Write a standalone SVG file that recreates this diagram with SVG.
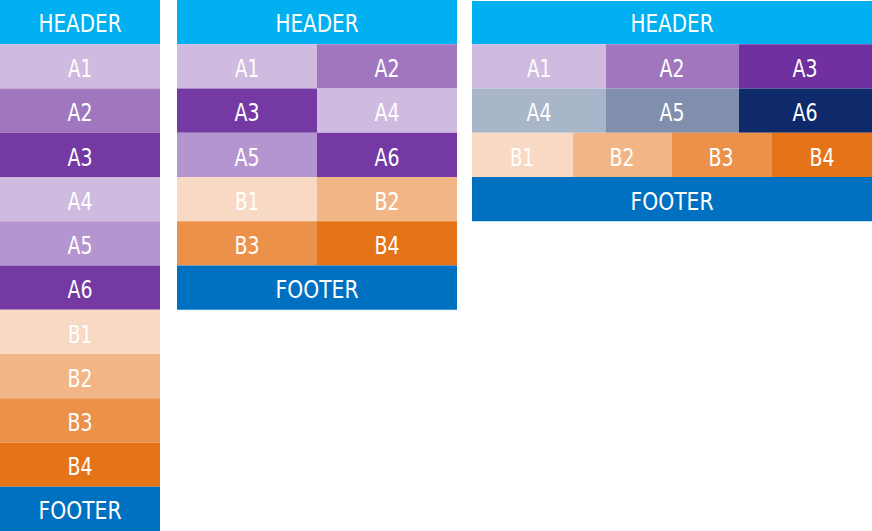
<svg xmlns="http://www.w3.org/2000/svg" width="872" height="531" viewBox="0 0 872 531">
<style>
text{font-family:"DejaVu Sans Condensed","DejaVu Sans",sans-serif;font-size:25px;fill:#ffffff;text-anchor:middle;lengthAdjust:spacingAndGlyphs}
.hd{fill:#00B0F0}.ft{fill:#0070C0}
.a1{fill:#D0BBE0}.a2{fill:#A077BE}.a3{fill:#7539A3}.a5{fill:#B595CF}
.a3b{fill:#7030A0}.g4{fill:#A9B5C9}.g5{fill:#7F8FAD}.g6{fill:#0E2A6A}
.b1{fill:#F8D9C3}.b2{fill:#F2B686}.b3{fill:#EB914A}.b4{fill:#E57317}
</style>
<rect width="872" height="531" fill="#ffffff"/>
<g id="col1">
<g id="c1-header"><rect class="hd" x="0" y="0" width="160" height="44.25"/><text x="80" y="32" textLength="83" lengthAdjust="spacingAndGlyphs">HEADER</text></g>
<g id="c1-a1"><rect class="a1" x="0" y="44.25" width="160" height="44.25"/><text x="80" y="77" textLength="24" lengthAdjust="spacingAndGlyphs">A1</text></g>
<g id="c1-a2"><rect class="a2" x="0" y="88.5" width="160" height="44.25"/><text x="80" y="121" textLength="25" lengthAdjust="spacingAndGlyphs">A2</text></g>
<g id="c1-a3"><rect class="a3" x="0" y="132.75" width="160" height="44.25"/><text x="80" y="166" textLength="25" lengthAdjust="spacingAndGlyphs">A3</text></g>
<g id="c1-a4"><rect class="a1" x="0" y="177" width="160" height="44.25"/><text x="80" y="210" textLength="25" lengthAdjust="spacingAndGlyphs">A4</text></g>
<g id="c1-a5"><rect class="a5" x="0" y="221.25" width="160" height="44.25"/><text x="80" y="254" textLength="25" lengthAdjust="spacingAndGlyphs">A5</text></g>
<g id="c1-a6"><rect class="a3" x="0" y="265.5" width="160" height="44.25"/><text x="80" y="298" textLength="25" lengthAdjust="spacingAndGlyphs">A6</text></g>
<g id="c1-b1"><rect class="b1" x="0" y="309.75" width="160" height="44.25"/><text x="80" y="343" textLength="24" lengthAdjust="spacingAndGlyphs">B1</text></g>
<g id="c1-b2"><rect class="b2" x="0" y="354" width="160" height="44.25"/><text x="80" y="387" textLength="25" lengthAdjust="spacingAndGlyphs">B2</text></g>
<g id="c1-b3"><rect class="b3" x="0" y="398.25" width="160" height="44.25"/><text x="80" y="431" textLength="25" lengthAdjust="spacingAndGlyphs">B3</text></g>
<g id="c1-b4"><rect class="b4" x="0" y="442.5" width="160" height="44.25"/><text x="80" y="475" textLength="25" lengthAdjust="spacingAndGlyphs">B4</text></g>
<g id="c1-footer"><rect class="ft" x="0" y="486.75" width="160" height="44.25"/><text x="80" y="519" textLength="83" lengthAdjust="spacingAndGlyphs">FOOTER</text></g>
</g>
<g id="col2">
<g id="c2-header"><rect class="hd" x="177" y="0" width="280" height="44.25"/><text x="317" y="32" textLength="83" lengthAdjust="spacingAndGlyphs">HEADER</text></g>
<g id="c2-a1"><rect class="a1" x="177" y="44.25" width="140" height="44.25"/><text x="247" y="77" textLength="24" lengthAdjust="spacingAndGlyphs">A1</text></g>
<g id="c2-a2"><rect class="a2" x="317" y="44.25" width="140" height="44.25"/><text x="387" y="77" textLength="25" lengthAdjust="spacingAndGlyphs">A2</text></g>
<g id="c2-a3"><rect class="a3" x="177" y="88.5" width="140" height="44.25"/><text x="247" y="121" textLength="25" lengthAdjust="spacingAndGlyphs">A3</text></g>
<g id="c2-a4"><rect class="a1" x="317" y="88.5" width="140" height="44.25"/><text x="387" y="121" textLength="25" lengthAdjust="spacingAndGlyphs">A4</text></g>
<g id="c2-a5"><rect class="a5" x="177" y="132.75" width="140" height="44.25"/><text x="247" y="166" textLength="25" lengthAdjust="spacingAndGlyphs">A5</text></g>
<g id="c2-a6"><rect class="a3" x="317" y="132.75" width="140" height="44.25"/><text x="387" y="166" textLength="25" lengthAdjust="spacingAndGlyphs">A6</text></g>
<g id="c2-b1"><rect class="b1" x="177" y="177" width="140" height="44.25"/><text x="247" y="210" textLength="24" lengthAdjust="spacingAndGlyphs">B1</text></g>
<g id="c2-b2"><rect class="b2" x="317" y="177" width="140" height="44.25"/><text x="387" y="210" textLength="25" lengthAdjust="spacingAndGlyphs">B2</text></g>
<g id="c2-b3"><rect class="b3" x="177" y="221.25" width="140" height="44.25"/><text x="247" y="254" textLength="25" lengthAdjust="spacingAndGlyphs">B3</text></g>
<g id="c2-b4"><rect class="b4" x="317" y="221.25" width="140" height="44.25"/><text x="387" y="254" textLength="25" lengthAdjust="spacingAndGlyphs">B4</text></g>
<g id="c2-footer"><rect class="ft" x="177" y="265.5" width="280" height="44.25"/><text x="317" y="298" textLength="83" lengthAdjust="spacingAndGlyphs">FOOTER</text></g>
</g>
<g id="col3">
<g id="c3-header"><rect class="hd" x="472" y="1" width="400" height="43.25"/><text x="672" y="32" textLength="83" lengthAdjust="spacingAndGlyphs">HEADER</text></g>
<g id="c3-a1"><rect class="a1" x="472" y="44.25" width="134" height="44.25"/><text x="539" y="77" textLength="24" lengthAdjust="spacingAndGlyphs">A1</text></g>
<g id="c3-a2"><rect class="a2" x="606" y="44.25" width="133" height="44.25"/><text x="672" y="77" textLength="25" lengthAdjust="spacingAndGlyphs">A2</text></g>
<g id="c3-a3"><rect class="a3b" x="739" y="44.25" width="133" height="44.25"/><text x="805" y="77" textLength="25" lengthAdjust="spacingAndGlyphs">A3</text></g>
<g id="c3-a4"><rect class="g4" x="472" y="88.5" width="134" height="44.25"/><text x="539" y="121" textLength="25" lengthAdjust="spacingAndGlyphs">A4</text></g>
<g id="c3-a5"><rect class="g5" x="606" y="88.5" width="133" height="44.25"/><text x="672" y="121" textLength="25" lengthAdjust="spacingAndGlyphs">A5</text></g>
<g id="c3-a6"><rect class="g6" x="739" y="88.5" width="133" height="44.25"/><text x="805" y="121" textLength="25" lengthAdjust="spacingAndGlyphs">A6</text></g>
<g id="c3-b1"><rect class="b1" x="472" y="132.75" width="101" height="44.25"/><text x="522" y="166" textLength="24" lengthAdjust="spacingAndGlyphs">B1</text></g>
<g id="c3-b2"><rect class="b2" x="573" y="132.75" width="99" height="44.25"/><text x="622" y="166" textLength="25" lengthAdjust="spacingAndGlyphs">B2</text></g>
<g id="c3-b3"><rect class="b3" x="672" y="132.75" width="100" height="44.25"/><text x="721" y="166" textLength="25" lengthAdjust="spacingAndGlyphs">B3</text></g>
<g id="c3-b4"><rect class="b4" x="772" y="132.75" width="100" height="44.25"/><text x="822" y="166" textLength="25" lengthAdjust="spacingAndGlyphs">B4</text></g>
<g id="c3-footer"><rect class="ft" x="472" y="177" width="400" height="44.25"/><text x="672" y="210" textLength="83" lengthAdjust="spacingAndGlyphs">FOOTER</text></g>
</g>
<g id="connectors"/>
</svg>
